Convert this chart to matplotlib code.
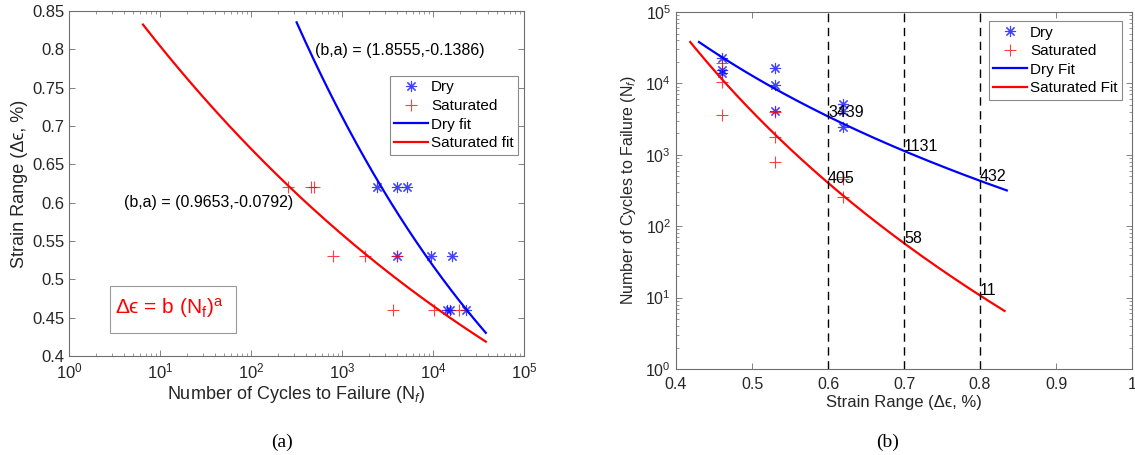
"""Strain-life fits for dry and saturated specimens, two panels."""

import matplotlib

matplotlib.use("Agg")
import matplotlib.pyplot as plt
import numpy as np
from matplotlib.patches import Rectangle
from matplotlib.ticker import FuncFormatter, LogLocator, MultipleLocator, NullFormatter

plt.rcParams["font.family"] = ["Liberation Sans", "DejaVu Sans"]
plt.rcParams["mathtext.fontset"] = "custom"
plt.rcParams["mathtext.rm"] = "Liberation Sans"
plt.rcParams["mathtext.it"] = "Liberation Sans:italic"
plt.rcParams["mathtext.sf"] = "Liberation Sans"

# --- data ---
dry_strain = [0.62, 0.62, 0.62, 0.53, 0.53, 0.53, 0.46, 0.46, 0.46]
dry_cycles = [2450, 4050, 5150, 4050, 9500, 16300, 14200, 15200, 23000]
sat_strain = [0.62, 0.62, 0.62, 0.53, 0.53, 0.53, 0.46, 0.46, 0.46]
sat_cycles = [255, 455, 495, 800, 1800, 4000, 3650, 10300, 19500]

# power-law fits  d_eps = b * N**a  (parameters as printed on the chart)
dry_b, dry_a = 1.8555, -0.1386
sat_b, sat_a = 0.9653, -0.0792
dry_n_range = (317, 38000)
sat_n_range = (6.5, 38000)

# predicted lives at selected strain levels (panel b labels)
label_strain = [0.6, 0.7, 0.8]
dry_life = [3439, 1131, 432]
sat_life = [405, 58, 11]

AX_COLOR = "#6e6e6e"
TXT_COLOR = "#262626"
BLUE = "#0000ff"
RED = "#ff0000"
ASTERISK = (8, 2, 0)
plain = FuncFormatter(lambda v, _: f"{v:g}")


def style_axes(ax, labelsize):
    for sp in ax.spines.values():
        sp.set_color(AX_COLOR)
        sp.set_linewidth(0.8)
    ax.tick_params(which="both", direction="in", top=True, right=True,
                   colors=AX_COLOR, labelcolor=TXT_COLOR, labelsize=labelsize)
    ax.tick_params(which="major", length=4.5, width=0.6)
    ax.tick_params(which="minor", length=2.5, width=0.5)


def fit_curve(b, a, n_range):
    n = np.logspace(np.log10(n_range[0]), np.log10(n_range[1]), 200)
    return n, b * n ** a


fig = plt.figure(figsize=(11.35, 4.55), dpi=100)
ax1 = fig.add_axes([0.0608, 0.2176, 0.4009, 0.7582])
ax2 = fig.add_axes([0.5956, 0.1890, 0.4018, 0.7846])

dry_n, dry_eps = fit_curve(dry_b, dry_a, dry_n_range)
sat_n, sat_eps = fit_curve(sat_b, sat_a, sat_n_range)

# ---------------- panel (a) ----------------
ax1.plot(dry_cycles, dry_strain, ls="none", marker=ASTERISK, ms=8, mew=0.8,
         color=BLUE, alpha=0.75, label="Dry")
ax1.plot(sat_cycles, sat_strain, ls="none", marker="+", ms=9, mew=0.8,
         color=RED, alpha=0.75, label="Saturated")
ax1.plot(dry_n, dry_eps, color=BLUE, lw=1.6, label="Dry fit")
ax1.plot(sat_n, sat_eps, color=RED, lw=1.6, label="Saturated fit")
ax1.set_xscale("log")
ax1.set_xlim(1, 1e5)
ax1.set_ylim(0.4, 0.85)
ax1.yaxis.set_major_locator(MultipleLocator(0.05))
ax1.yaxis.set_major_formatter(plain)
ax1.xaxis.set_minor_locator(LogLocator(base=10, subs=np.arange(2, 10), numticks=20))
ax1.xaxis.set_minor_formatter(NullFormatter())
style_axes(ax1, 12)
ax1.tick_params(axis="x", pad=4)
ax1.set_xlabel(r"Number of Cycles to Failure (N$_{f}$)", fontsize=13,
               color=TXT_COLOR, labelpad=2)
ax1.set_ylabel("Strain Range (\u0394\u03f5, %)", fontsize=13,
               color=TXT_COLOR, labelpad=3)
ax1.text(505, 0.798, f"(b,a) = ({dry_b},{dry_a})", fontsize=11.5,
         va="center", ha="left", color="black")
ax1.text(4.05, 0.600, f"(b,a) = ({sat_b},{sat_a})", fontsize=11.5,
         va="center", ha="left", color="black")
ax1.add_patch(Rectangle((0.090, 0.067), 0.277, 0.136, transform=ax1.transAxes,
                        fill=False, ec="#9a9a9a", lw=0.8))
ax1.text(0.101, 0.139, "\u0394\u03f5 = b (N$_{\\mathrm{f}}$)$^{\\mathrm{a}}$",
         fontsize=15, color=RED, transform=ax1.transAxes, va="center", ha="left")
leg1 = ax1.legend(loc="upper left", bbox_to_anchor=(0.705, 0.812),
                  borderaxespad=0, fancybox=False, framealpha=1,
                  edgecolor="#8a8a8a", fontsize=11, handlelength=2.2,
                  handletextpad=0.2, labelspacing=0.3, borderpad=0.3)
leg1.get_frame().set_linewidth(0.8)

# ---------------- panel (b) ----------------
ax2.plot(dry_strain, dry_cycles, ls="none", marker=ASTERISK, ms=8, mew=0.8,
         color=BLUE, alpha=0.75, label="Dry")
ax2.plot(sat_strain, sat_cycles, ls="none", marker="+", ms=9, mew=0.8,
         color=RED, alpha=0.75, label="Saturated")
ax2.plot(dry_eps, dry_n, color=BLUE, lw=1.6, label="Dry Fit")
ax2.plot(sat_eps, sat_n, color=RED, lw=1.6, label="Saturated Fit")
for xs in label_strain:
    ax2.axvline(xs, color="black", lw=1.0, ls=(0, (6, 4)))
for xs, nd, ns in zip(label_strain, dry_life, sat_life):
    ax2.annotate(str(nd), (xs, nd), xytext=(0, 3), textcoords="offset points",
                 fontsize=11.5, va="center", ha="left")
    ax2.annotate(str(ns), (xs, ns), xytext=(0, 3), textcoords="offset points",
                 fontsize=11.5, va="center", ha="left")
ax2.set_yscale("log")
ax2.set_xlim(0.4, 1.0)
ax2.set_ylim(1, 1e5)
ax2.xaxis.set_major_locator(MultipleLocator(0.1))
ax2.xaxis.set_major_formatter(plain)
ax2.yaxis.set_major_locator(LogLocator(base=10, numticks=10))
ax2.yaxis.set_minor_locator(LogLocator(base=10, subs=np.arange(2, 10), numticks=20))
ax2.yaxis.set_minor_formatter(NullFormatter())
style_axes(ax2, 11.5)
ax2.tick_params(axis="x", pad=6)
ax2.set_xlabel("Strain Range (\u0394\u03f5, %)", fontsize=12,
               color=TXT_COLOR, labelpad=2)
ax2.set_ylabel(r"Number of Cycles to Failure (N$_{f}$)", fontsize=11.5,
               color=TXT_COLOR, labelpad=5)
leg2 = ax2.legend(loc="upper left", bbox_to_anchor=(0.686, 0.975),
                  borderaxespad=0, fancybox=False, framealpha=1,
                  edgecolor="#8a8a8a", fontsize=11, handlelength=2.2,
                  handletextpad=0.2, labelspacing=0.3, borderpad=0.3)
leg2.get_frame().set_linewidth(0.8)

# panel captions
fig.text(282 / 1135, 1 - 442 / 455, "(a)", fontsize=14, family="Liberation Serif",
         ha="center", va="center")
fig.text(888 / 1135, 1 - 442 / 455, "(b)", fontsize=14, family="Liberation Serif",
         ha="center", va="center")

fig.savefig("out.png", dpi=100)
